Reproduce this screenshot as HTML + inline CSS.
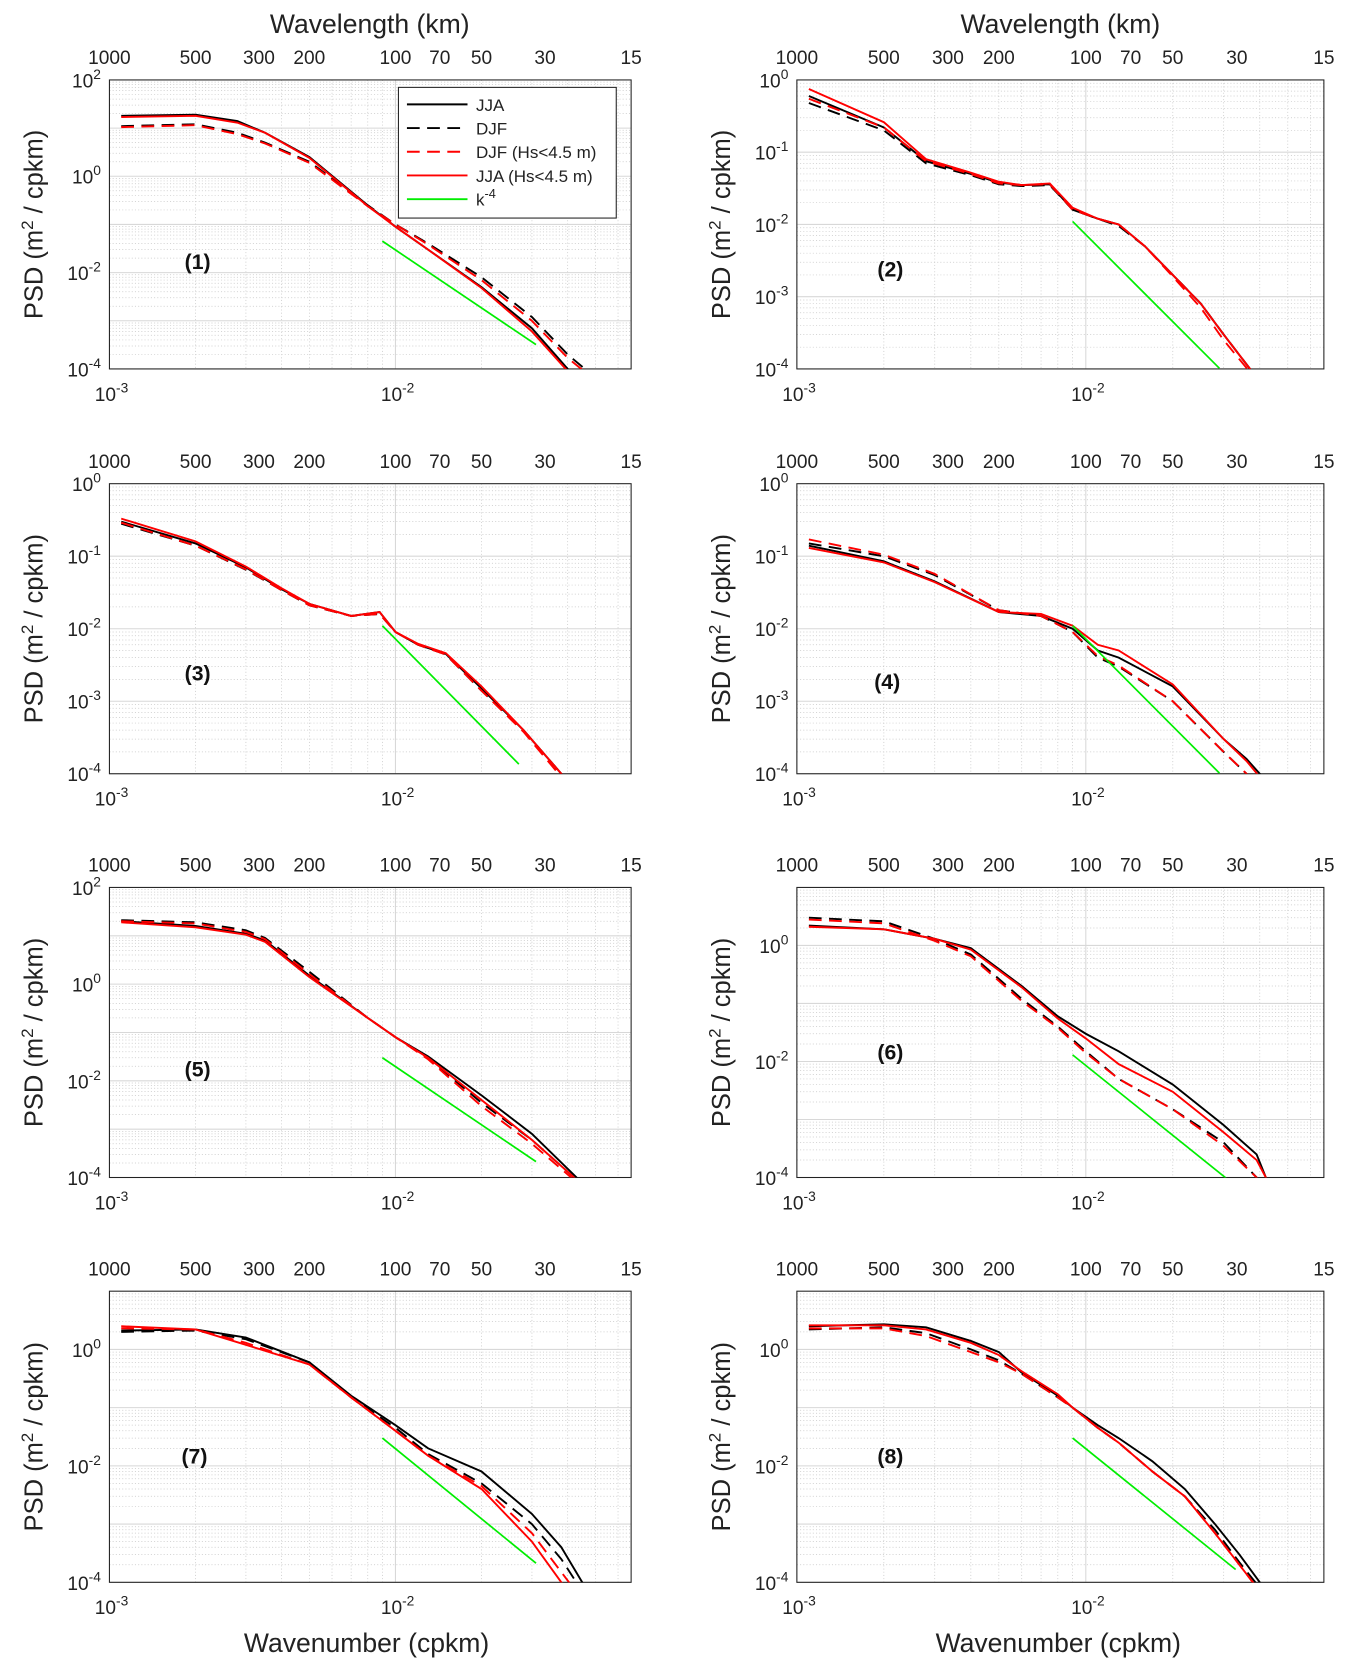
<!DOCTYPE html>
<html><head><meta charset="utf-8"><style>
body{margin:0;background:#fff}
svg{display:block;font-family:"Liberation Sans",sans-serif}
</style></head><body>
<svg id="fig" width="1360" height="1675" viewBox="0 0 1280 1576" xmlns="http://www.w3.org/2000/svg"></svg>
<script>
// ---- data (wavenumber in cpkm, PSD in m^2/cpkm) ----
const panelLabels = ["(1)","(2)","(3)","(4)","(5)","(6)","(7)","(8)"];
const yDecMin = [-4,-4,-4,-4,-4,-4,-4,-4];
const yDecMax = [2,0,0,0,2,1,1,1];
const topTicks = [1000,500,300,200,100,70,50,30,15];
const seriesNames = ["JJA","DJF","DJF (Hs<4.5 m)","JJA (Hs<4.5 m)"];

const k1 = [0.0011,0.002,0.0028,0.0035,0.005,0.008,0.01,0.013,0.02,0.03,0.04,0.048];
const p1_jja  = [18,19,14,8,2.5,0.25,0.09,0.03,0.005,0.0007,0.0001,0.00004];
const p1_djf  = [11,12,8,5,2,0.25,0.1,0.04,0.008,0.0012,0.0002,0.00008];
const p1_djfh = [10.5,11.5,7.5,4.8,1.9,0.24,0.1,0.038,0.007,0.001,0.00017,0.00007];
const p1_jjah = [17,18,13,8,2.4,0.24,0.09,0.03,0.0048,0.0006,0.00009,0.00004];

const k2 = [0.0011,0.002,0.0028,0.004,0.005,0.006,0.0075,0.009,0.011,0.013,0.016,0.02,0.025,0.03,0.037,0.041];
const p2_jja  = [0.6,0.22,0.075,0.05,0.038,0.035,0.036,0.016,0.012,0.01,0.005,0.002,0.0008,0.0003,0.0001,0.00005];
const p2_djf  = [0.48,0.2,0.07,0.048,0.036,0.034,0.035,0.016,0.012,0.0095,0.005,0.002,0.0008,0.0003,0.0001,0.00005];
const p2_djfh = [0.55,0.22,0.075,0.05,0.037,0.035,0.036,0.016,0.012,0.01,0.005,0.0019,0.0007,0.00025,0.00009,0.00005];
const p2_jjah = [0.75,0.26,0.08,0.052,0.039,0.035,0.037,0.017,0.012,0.01,0.005,0.002,0.0008,0.0003,0.0001,0.00005];

const k3 = [0.0011,0.002,0.003,0.004,0.005,0.007,0.0088,0.01,0.012,0.015,0.02,0.028,0.038,0.043];
const p3_jja  = [0.3,0.15,0.07,0.035,0.022,0.015,0.017,0.009,0.006,0.0045,0.0015,0.0004,0.0001,0.00005];
const p3_djf  = [0.28,0.14,0.065,0.034,0.021,0.015,0.016,0.009,0.006,0.0044,0.0014,0.0004,0.0001,0.00005];
const p3_djfh = [0.29,0.14,0.066,0.034,0.021,0.015,0.016,0.009,0.006,0.0044,0.0014,0.00038,0.00009,0.00005];
const p3_jjah = [0.33,0.16,0.072,0.036,0.022,0.015,0.017,0.009,0.0062,0.0046,0.0016,0.0004,0.0001,0.00005];

const k4 = [0.0011,0.002,0.003,0.005,0.007,0.009,0.011,0.013,0.02,0.03,0.036,0.04,0.044];
const p4_jja  = [0.14,0.085,0.045,0.017,0.015,0.01,0.005,0.004,0.0016,0.0003,0.00016,0.0001,0.00005];
const p4_djf  = [0.15,0.1,0.055,0.018,0.015,0.009,0.004,0.003,0.001,0.0002,0.0001,0.00006,0.00004];
const p4_djfh = [0.17,0.105,0.057,0.018,0.015,0.009,0.0042,0.0031,0.001,0.0002,0.0001,0.00006,0.00004];
const p4_jjah = [0.13,0.082,0.044,0.017,0.016,0.011,0.006,0.005,0.0017,0.0003,0.00015,0.00009,0.00005];

const k5 = [0.0011,0.002,0.003,0.0035,0.005,0.008,0.01,0.013,0.02,0.03,0.043,0.048];
const p5_jja  = [20,16,11,8,1.5,0.2,0.08,0.032,0.005,0.0008,0.0001,0.00005];
const p5_djf  = [21,19,13,9,1.8,0.2,0.08,0.03,0.0035,0.0006,0.00009,0.00005];
const p5_djfh = [20,18,12,8.5,1.6,0.2,0.08,0.028,0.003,0.0005,0.00008,0.00005];
const p5_jjah = [19,15,10.5,7.5,1.4,0.2,0.08,0.03,0.004,0.0006,0.00009,0.00005];

const k6 = [0.0011,0.002,0.003,0.004,0.006,0.008,0.01,0.013,0.02,0.03,0.039,0.042,0.045];
const p6_jja  = [2.2,1.9,1.3,0.9,0.2,0.06,0.03,0.015,0.004,0.0008,0.00025,0.0001,0.00005];
const p6_djf  = [3,2.6,1.3,0.7,0.12,0.04,0.015,0.005,0.0015,0.0004,0.0001,0.00006,0.00004];
const p6_djfh = [2.8,2.4,1.2,0.65,0.11,0.038,0.014,0.005,0.0015,0.00035,0.0001,0.00006,0.00004];
const p6_jjah = [2.1,1.9,1.3,0.85,0.19,0.055,0.025,0.009,0.003,0.0006,0.0002,0.0001,0.00005];

const k7 = [0.0011,0.002,0.003,0.005,0.007,0.01,0.013,0.02,0.03,0.038,0.045,0.048];
const p7_jja  = [2.1,2.2,1.6,0.6,0.16,0.05,0.02,0.008,0.0015,0.0004,0.0001,0.00005];
const p7_djf  = [2,2.1,1.5,0.6,0.15,0.045,0.016,0.005,0.001,0.00025,0.00007,0.00004];
const p7_djfh = [2.3,2.2,1.3,0.55,0.15,0.04,0.015,0.0045,0.0007,0.00015,0.00005,0.00003];
const p7_jjah = [2.5,2.2,1.2,0.55,0.15,0.04,0.015,0.004,0.0005,0.0001,0.00005,0.00003];

const k8 = [0.0011,0.002,0.0028,0.004,0.005,0.006,0.008,0.009,0.011,0.013,0.017,0.022,0.028,0.034,0.04,0.044];
const p8_jja  = [2.5,2.7,2.4,1.4,0.9,0.4,0.16,0.1,0.05,0.03,0.012,0.004,0.001,0.0003,0.0001,0.00005];
const p8_djf  = [2.2,2.4,1.9,1.0,0.65,0.38,0.15,0.1,0.045,0.025,0.008,0.003,0.0008,0.00022,0.00008,0.00004];
const p8_djfh = [2.3,2.3,1.7,0.9,0.6,0.38,0.15,0.1,0.045,0.025,0.008,0.003,0.0007,0.0002,0.00007,0.00004];
const p8_jjah = [2.6,2.6,2.2,1.3,0.8,0.42,0.17,0.1,0.045,0.025,0.008,0.003,0.0007,0.0002,0.00007,0.00004];

const kGrid = [k1,k2,k3,k4,k5,k6,k7,k8];
const psd = [
 [p1_jja,p1_djf,p1_djfh,p1_jjah],[p2_jja,p2_djf,p2_djfh,p2_jjah],
 [p3_jja,p3_djf,p3_djfh,p3_jjah],[p4_jja,p4_djf,p4_djfh,p4_jjah],
 [p5_jja,p5_djf,p5_djfh,p5_jjah],[p6_jja,p6_djf,p6_djfh,p6_jjah],
 [p7_jja,p7_djf,p7_djfh,p7_jjah],[p8_jja,p8_djf,p8_djfh,p8_jjah]];
// k^-4 reference line: start k, start PSD, end k
const refK0 = [0.009,0.009,0.009,0.009,0.009,0.009,0.009,0.009];
const refP0 = [0.045,0.011,0.011,0.011,0.03,0.013,0.03,0.03];
const refK1 = [0.031,0.029,0.027,0.029,0.031,0.031,0.031,0.033];

// ---- drawing ----
const NS="http://www.w3.org/2000/svg";
const fig=document.getElementById('fig');
function mk(tag,attrs,parent){const e=document.createElementNS(NS,tag);for(const a in attrs)e.setAttribute(a,attrs[a]);(parent||fig).appendChild(e);return e;}
const colX=[[103,594],[750,1246]];
const rowY=[[75,347],[455,728],[835,1108],[1215,1489]];
const lk0=-3, lk1=Math.log10(1/15);
const styles=[{c:'#000',d:null},{c:'#000',d:'12 7'},{c:'#ff0000',d:'12 7'},{c:'#ff0000',d:null}];
const labPos=[[186,246],[838,253],[186,633],[835,641],[186,1006],[838,990],[183,1370],[838,1370]];

for(let p=0;p<8;p++){
  const [x0,x1]=colX[p%2], [y0,y1]=rowY[Math.floor(p/2)];
  const ymin=yDecMin[p], ymax=yDecMax[p];
  const X=k=>x0+(Math.log10(k)-lk0)/(lk1-lk0)*(x1-x0);
  const Y=v=>y1-(Math.log10(v)-ymin)/(ymax-ymin)*(y1-y0);
  const g=mk('g',{});
  
  
  const cid='clip'+p;
  const cp=mk('clipPath',{id:cid},g);mk('rect',{x:x0,y:y0,width:x1-x0,height:y1-y0},cp);
  // grid
  for(let d=-3;d<=-2;d++)for(let m=1;m<=9;m++){const k=m*Math.pow(10,d);if(k>1/15)continue;const x=X(k);
    mk('line',{x1:x,x2:x,y1:y0,y2:y1,stroke:m==1?'#d8d8d8':'#c8c8c8','stroke-width':m==1?1:0.7,'stroke-dasharray':m==1?'':'1 2'},g);}
  for(let d=ymin;d<ymax;d++)for(let m=1;m<=9;m++){const v=m*Math.pow(10,d);const y=Y(v);
    mk('line',{x1:x0,x2:x1,y1:y,y2:y,stroke:m==1?'#d8d8d8':'#c8c8c8','stroke-width':m==1?1:0.7,'stroke-dasharray':m==1?'':'1 2'},g);}
  mk('rect',{x:x0,y:y0,width:x1-x0,height:y1-y0,fill:'none',stroke:'#222','stroke-width':1},g);
  // y ticks
  for(let d=ymin;d<=ymax;d++){
    if(p>=5 && d==ymax) continue;
    if(p>=5 && d%2!==0) continue;
    if(p<5 && (ymax-ymin)==6 && d%2!==0) continue;
    const y=Y(Math.pow(10,d));
    const t=mk('text',{x:x0-8,y:y+7,'text-anchor':'end','font-size':18,fill:'#222'},g);
    t.textContent='10';const s=mk('tspan',{dy:-8,'font-size':13},t);s.textContent=String(d);
    
    
  }
  // x bottom ticks
  [-3,-2].forEach(d=>{const t=mk('text',{x:X(Math.pow(10,d))+2,y:y1+30,'text-anchor':'middle','font-size':18,fill:'#222'},g);
    t.textContent='10';const s=mk('tspan',{dy:-8,'font-size':13},t);s.textContent=String(d);
    
    });
  // top ticks
  topTicks.forEach(w=>{const t=mk('text',{x:X(1/w),y:y0-15,'text-anchor':'middle','font-size':18,fill:'#222'},g);t.textContent=String(w);
    
    });
  // y title
  const yt=mk('text',{transform:`translate(${x0-63},${(y0+y1)/2}) rotate(-90)`,'text-anchor':'middle','font-size':24,fill:'#222'},g);
  yt.textContent='PSD (m';const sp=mk('tspan',{dy:-9,'font-size':16},yt);sp.textContent='2';const sp2=mk('tspan',{dy:9},yt);sp2.textContent=' / cpkm)';
  
  
  // series
  const cg=mk('g',{'clip-path':`url(#${cid})`},g);
  const ks=kGrid[p];
  psd[p].forEach((vals,si)=>{
    const pts=ks.map((k,i)=>X(k).toFixed(1)+','+Y(vals[i]).toFixed(1)).join(' ');
    const pl=mk('polyline',{points:pts,fill:'none',stroke:styles[si].c,'stroke-width':1.8},cg);
    if(styles[si].d)pl.setAttribute('stroke-dasharray',styles[si].d);
    
    
  });
  const p1=refP0[p]*Math.pow(refK0[p]/refK1[p],4);
  const rl=mk('line',{x1:X(refK0[p]),y1:Y(refP0[p]),x2:X(refK1[p]),y2:Y(p1),stroke:'#00ee00','stroke-width':1.6},cg);
  
  
  const lb=mk('text',{x:labPos[p][0],y:labPos[p][1]+7,'text-anchor':'middle','font-size':20,'font-weight':'bold',fill:'#111'},g);
  lb.textContent=panelLabels[p];
  
  
}
// titles
[[348,24,'Wavelength (km)'],[998,24,'Wavelength (km)'],[345,1548,'Wavenumber (cpkm)'],[996,1548,'Wavenumber (cpkm)']].forEach(a=>{
  const t=mk('text',{x:a[0],y:a[1],'text-anchor':'middle','font-size':25,fill:'#222','dominant-baseline':'middle'});t.textContent=a[2];
  
  
});
// legend
const lg=mk('g',{});


mk('rect',{x:375,y:82,width:205,height:123,fill:'#fff',stroke:'#222','stroke-width':1},lg);
const legNames=seriesNames.concat(['k-4']);
const legStyles=styles.concat([{c:'#00ee00',d:null}]);
legNames.forEach((n,i)=>{const y=98+i*22.3;
  const l=mk('line',{x1:383,x2:440,y1:y,y2:y,stroke:legStyles[i].c,'stroke-width':1.8},lg);
  if(legStyles[i].d)l.setAttribute('stroke-dasharray',legStyles[i].d);
  const t=mk('text',{x:448,y:y+6,'font-size':16,fill:'#222'},lg);
  if(i==4){t.textContent='k';const s=mk('tspan',{dy:-7,'font-size':12},t);s.textContent='-4';}
  else t.textContent=n;
  
  
});
</script>
</body></html>
